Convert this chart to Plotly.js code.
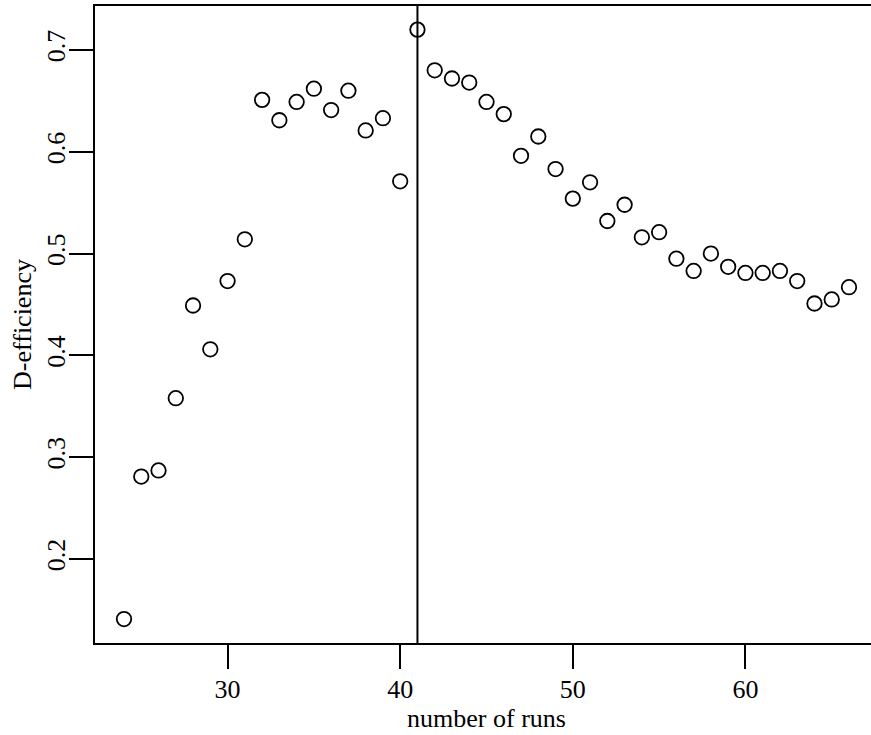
<!DOCTYPE html>
<html>
<head>
<meta charset="utf-8">
<script src="https://cdn.plot.ly/plotly-3.0.1.min.js"></script>
<style>
  html, body { margin: 0; padding: 0; overflow: hidden; background: #fff; }
  #chart { width: 881px; height: 735px; }
</style>
</head>
<body>
<div id="chart"></div>
<script>
// Number of runs in each design
const runs = [24, 25, 26, 27, 28, 29, 30, 31, 32, 33, 34, 35, 36, 37, 38, 39, 40,
              41, 42, 43, 44, 45, 46, 47, 48, 49, 50, 51, 52, 53, 54, 55, 56, 57,
              58, 59, 60, 61, 62, 63, 64, 65, 66];

// D-efficiency of the best design found for each run size
const dEfficiency = [0.141, 0.281, 0.287, 0.358, 0.449, 0.406, 0.473, 0.514, 0.651,
                     0.631, 0.649, 0.662, 0.641, 0.660, 0.621, 0.633, 0.571, 0.720,
                     0.680, 0.672, 0.668, 0.649, 0.637, 0.596, 0.615, 0.583, 0.554,
                     0.570, 0.532, 0.548, 0.516, 0.521, 0.495, 0.483, 0.500, 0.487,
                     0.481, 0.481, 0.483, 0.473, 0.451, 0.455, 0.467];

// Run size marked with a reference line
const markedRuns = 41;

const xTicks = [30, 40, 50, 60];
const yTicks = [0.2, 0.3, 0.4, 0.5, 0.6, 0.7];

const font = { family: 'Liberation Serif, Times New Roman, serif', size: 26, color: '#000' };

const trace = {
  x: runs,
  y: dEfficiency,
  type: 'scatter',
  mode: 'markers',
  marker: {
    symbol: 'circle-open',
    size: 14.5,
    color: '#000',
    line: { width: 1.8, color: '#000' }
  },
  hoverinfo: 'x+y'
};

const layout = {
  width: 881,
  height: 735,
  margin: { l: 95, r: 3, t: 6, b: 92 },
  paper_bgcolor: '#fff',
  plot_bgcolor: '#fff',
  font: font,
  showlegend: false,
  xaxis: {
    range: [22.32, 67.68],
    tickmode: 'array',
    tickvals: xTicks,
    ticktext: xTicks.map(String),
    ticks: 'outside',
    ticklen: 24,
    tickwidth: 2,
    tickcolor: '#000',
    ticklabelstandoff: -2,
    showline: true,
    linewidth: 2,
    linecolor: '#000',
    mirror: true,
    showgrid: false,
    zeroline: false,
    tickfont: font,
    title: { text: 'number of runs', font: font, standoff: 2 }
  },
  yaxis: {
    range: [0.1175, 0.7432],
    tickmode: 'array',
    tickvals: yTicks,
    ticktext: yTicks.map(v => v.toFixed(1)),
    tickangle: -90,
    ticks: 'outside',
    ticklen: 24,
    tickwidth: 2,
    tickcolor: '#000',
    ticklabelstandoff: -6,
    showline: true,
    linewidth: 2,
    linecolor: '#000',
    mirror: true,
    showgrid: false,
    zeroline: false,
    tickfont: font,
    title: { text: 'D-efficiency', font: font, standoff: 2 }
  },
  shapes: [{
    type: 'line',
    xref: 'x', yref: 'paper',
    x0: markedRuns, x1: markedRuns,
    y0: 0, y1: 1,
    line: { color: '#000', width: 2 }
  }]
};

Plotly.newPlot('chart', [trace], layout, { displayModeBar: false, staticPlot: true });
</script>
</body>
</html>
